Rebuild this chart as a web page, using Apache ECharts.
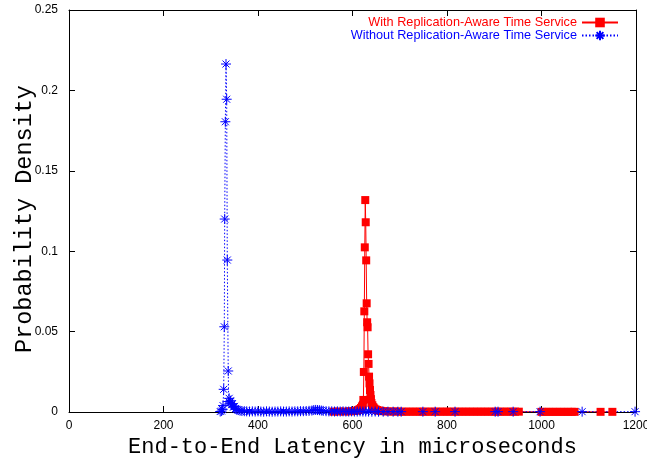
<!DOCTYPE html>
<html>
<head>
<meta charset="utf-8">
<script src="https://cdn.jsdelivr.net/npm/echarts@6/dist/echarts.min.js"></script>
<style>
  html, body { margin: 0; padding: 0; background: #fff; }
  #chart { width: 647px; height: 460px; }
</style>
</head>
<body>
<div id="chart"></div>
<script>
// with replication-aware time service (red)
var redLatency = [560, 572, 584, 594, 602, 608, 612, 615, 618, 620, 622, 623, 624, 625, 626, 627, 628, 629, 630, 631,
  632, 633, 634, 635, 636, 637, 638, 639, 640, 642, 644, 646, 649, 652, 656, 660, 665, 672, 680, 688,
  696, 704, 712, 720, 728, 736, 744, 752, 760, 768, 776, 784, 792, 800, 808, 816, 824, 832, 840, 848,
  856, 864, 872, 880, 888, 896, 904, 912, 920, 928, 936, 944, 952, 1000, 1008, 1016, 1024, 1032, 1040, 1048,
  1056, 1064, 1070, 1125, 1150];
var redDensity = [0.0002, 0.0003, 0.0003, 0.0004, 0.0006, 0.0008, 0.0012, 0.0018, 0.0025, 0.0035, 0.0045, 0.0075, 0.0249, 0.0626, 0.1024, 0.1318, 0.118, 0.0943, 0.0676, 0.0558,
  0.0527, 0.0359, 0.0299, 0.022, 0.0178, 0.0137, 0.0106, 0.008, 0.0056, 0.0042, 0.003, 0.0022, 0.0016, 0.0012, 0.0009, 0.0007, 0.0005, 0.0004, 0.0003, 0.0003,
  0.0003, 0.0002, 0.0002, 0.0002, 0.0002, 0.0002, 0.0002, 0.0002, 0.0002, 0.0002, 0.0002, 0.0002, 0.0002, 0.0002, 0.0002, 0.0002, 0.0002, 0.0002, 0.0002, 0.0002,
  0.0002, 0.0002, 0.0002, 0.0002, 0.0002, 0.0002, 0.0002, 0.0002, 0.0002, 0.0002, 0.0002, 0.0002, 0.0002, 0.0001, 0.0001, 0.0001, 0.0001, 0.0001, 0.0001, 0.0001,
  0.0001, 0.0001, 0.0001, 0.0001, 0.0001];

// without replication-aware time service (blue)
var blueLatency = [320, 323, 325, 326, 327.4, 328.7, 329.5, 330.9, 332.3, 333.7, 335, 337, 338, 339, 341, 342, 344, 346, 348, 350,
  352, 355, 358, 362, 366, 371, 376, 382, 388, 394, 400, 406, 412, 418, 424, 430, 436, 442, 448, 454,
  460, 466, 472, 478, 484, 490, 496, 502, 508, 514, 518, 522, 526, 530, 534, 538, 544, 550, 556, 562,
  568, 574, 580, 586, 592, 598, 604, 610, 616, 622, 628, 634, 641, 648, 655, 665, 675, 686, 696, 703,
  749, 775, 817, 902, 908, 940, 997, 1086, 1198];
var blueDensity = [0.0003, 0.0006, 0.0015, 0.004, 0.0141, 0.053, 0.12, 0.1805, 0.2164, 0.1945, 0.0945, 0.0255, 0.0065, 0.0085, 0.0055, 0.007, 0.0045, 0.0052, 0.003, 0.0035,
  0.002, 0.0015, 0.0012, 0.0008, 0.0006, 0.0005, 0.0004, 0.0003, 0.0004, 0.0003, 0.0004, 0.0003, 0.0002, 0.0004, 0.0003, 0.0002, 0.0003, 0.0003, 0.0004, 0.0003,
  0.0003, 0.0004, 0.0003, 0.0004, 0.0004, 0.0005, 0.0005, 0.0006, 0.0007, 0.0009, 0.0012, 0.0013, 0.0012, 0.0011, 0.0009, 0.0007, 0.0005, 0.0004, 0.0004, 0.0003,
  0.0004, 0.0003, 0.0004, 0.0003, 0.0003, 0.0004, 0.0003, 0.0003, 0.0004, 0.0003, 0.0003, 0.0003, 0.0002, 0.0003, 0.0002, 0.0002, 0.0002, 0.0002, 0.0002, 0.0002,
  0.0002, 0.0002, 0.0002, 0.0002, 0.0002, 0.0002, 0.0002, 0.0002, 0.0002];

var seriesNames = ["With Replication-Aware Time Service", "Without Replication-Aware Time Service"];

function pairs(xs, ys) {
  var out = [];
  for (var i = 0; i < xs.length; i++) out.push([xs[i], ys[i]]);
  return out;
}

// gnuplot style "*" point
var asterisk = "path://M0,5L10,5M5,0L5,10M1.5,1.5L8.5,8.5M8.5,1.5L1.5,8.5";

var tickFont = { color: "#000", fontFamily: "Liberation Sans", fontSize: 12 };
var blackLine = { onZero: false, lineStyle: { color: "#000", width: 1 } };
var innerTick = { inside: true, length: 6, lineStyle: { color: "#000" } };

var option = {
  animation: false,
  backgroundColor: "#fff",
  grid: { left: 69, right: 11, top: 10, bottom: 48, outerBoundsMode: "none", containLabel: false },
  legend: {
    orient: "vertical",
    right: 23,
    top: 11,
    align: "right",
    itemWidth: 36,
    itemHeight: 12,
    itemGap: 0,
    textStyle: { fontFamily: "Liberation Sans", fontSize: 12.7, lineHeight: 12 },
    data: [
      { name: seriesNames[0], textStyle: { color: "#ff0000" } },
      { name: seriesNames[1], textStyle: { color: "#0000ff" } }
    ]
  },
  xAxis: [
    {
      type: "value",
      min: 0,
      max: 1200,
      interval: 200,
      name: "End-to-End Latency in microseconds",
      nameLocation: "middle",
      nameGap: 24,
      nameMoveOverlap: false,
      nameTextStyle: { color: "#000", fontFamily: "Liberation Mono", fontSize: 22 },
      axisLine: blackLine,
      axisTick: innerTick,
      axisLabel: Object.assign({ margin: 8, formatter: function (v) { return String(v); } }, tickFont),
      splitLine: { show: false }
    },
    {
      type: "value",
      position: "top",
      min: 0,
      max: 1200,
      interval: 200,
      axisLine: blackLine,
      axisTick: innerTick,
      axisLabel: { show: false },
      splitLine: { show: false }
    }
  ],
  yAxis: [
    {
      type: "value",
      min: 0,
      max: 0.25,
      interval: 0.05,
      name: "Probability Density",
      nameLocation: "middle",
      nameGap: 32,
      nameMoveOverlap: false,
      nameTextStyle: { color: "#000", fontFamily: "Liberation Mono", fontSize: 23.5, padding: [0, 16, 0, 0] },
      axisLine: blackLine,
      axisTick: innerTick,
      axisLabel: Object.assign({ margin: 11, formatter: function (v) { return String(v); } }, tickFont),
      splitLine: { show: false }
    },
    {
      type: "value",
      position: "right",
      min: 0,
      max: 0.25,
      interval: 0.05,
      axisLine: blackLine,
      axisTick: innerTick,
      axisLabel: { show: false },
      splitLine: { show: false }
    }
  ],
  series: [
    {
      name: seriesNames[0],
      type: "line",
      data: pairs(redLatency, redDensity),
      symbol: "rect",
      symbolSize: 8,
      color: "#ff0000",
      lineStyle: { color: "#ff0000", width: 1 },
      itemStyle: { color: "#ff0000" }
    },
    {
      name: seriesNames[1],
      type: "line",
      data: pairs(blueLatency, blueDensity),
      symbol: asterisk,
      symbolSize: 10,
      color: "#0000ff",
      lineStyle: { color: "#0000ff", width: 1, type: [1.5, 2] },
      itemStyle: { color: "#0000ff", borderColor: "#0000ff", borderWidth: 1 }
    }
  ]
};

var chart = echarts.init(document.getElementById("chart"));
chart.setOption(option);
</script>
</body>
</html>
